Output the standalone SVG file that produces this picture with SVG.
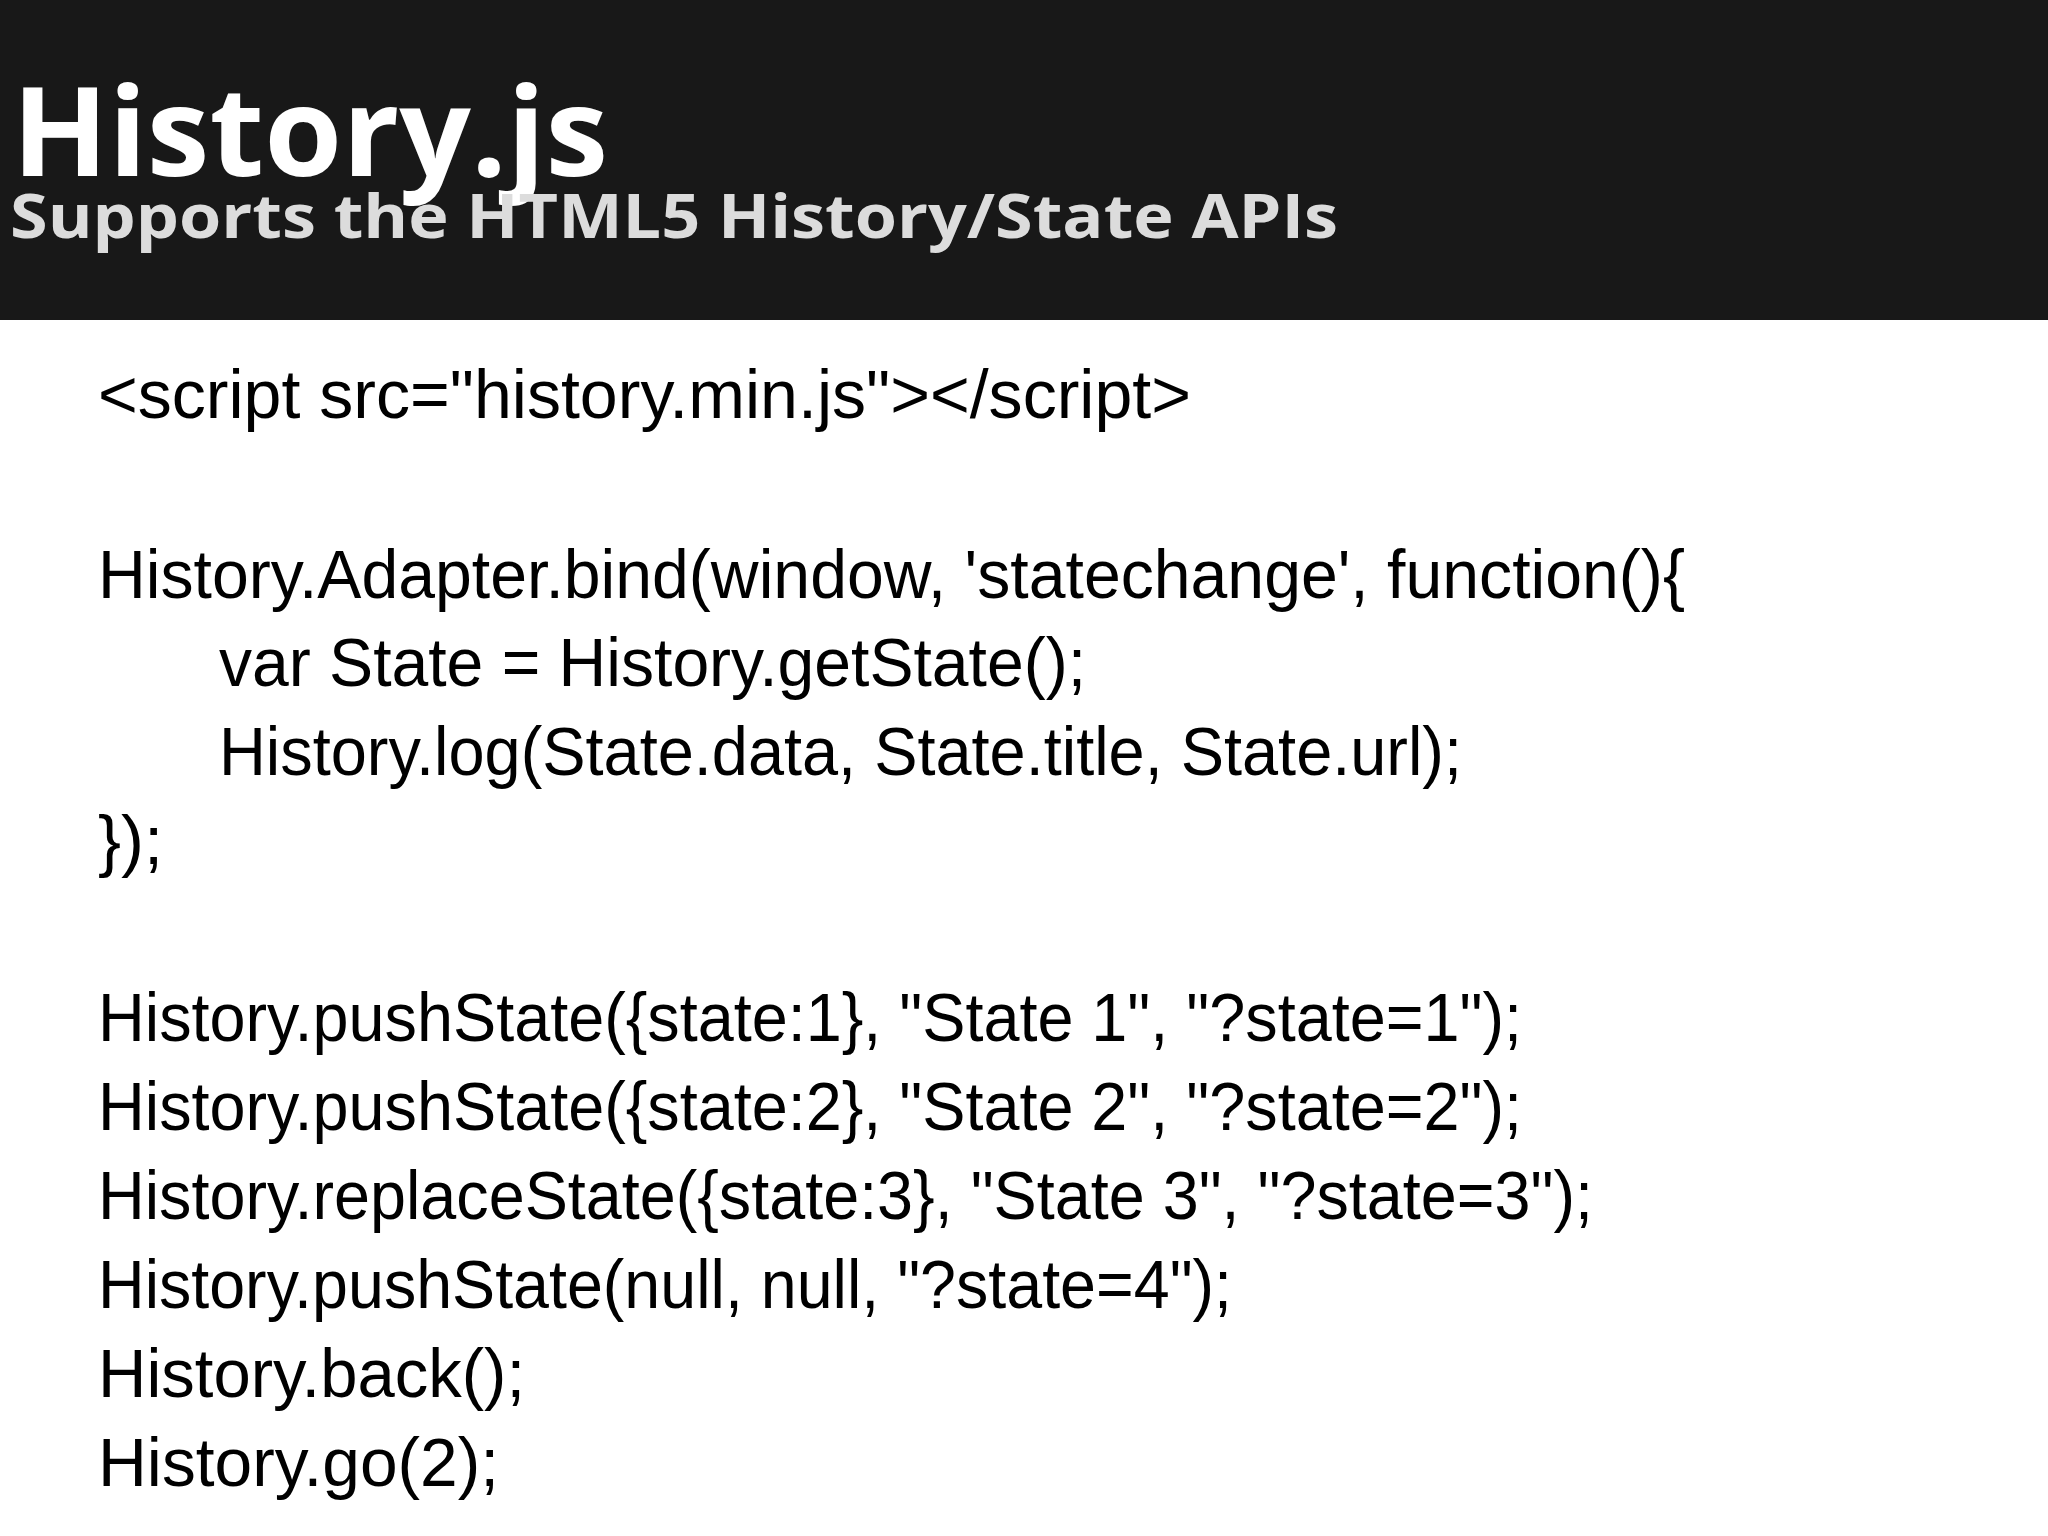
<svg xmlns="http://www.w3.org/2000/svg" width="2048" height="1536" viewBox="0 0 2048 1536">
<style>
.c{font-family:"Liberation Sans",Arial,sans-serif;font-size:68px;fill:#000}
</style>
<rect x="0" y="0" width="2048" height="1536" fill="#fff"/>
<g id="header">
<rect x="0" y="0" width="2048" height="320" fill="#181818"/>
<text x="12" y="176" font-family="Open Sans,sans-serif" font-weight="bold" font-size="124" fill="#fff" textLength="596" lengthAdjust="spacingAndGlyphs">History.js</text>
<text x="10" y="238" font-family="Open Sans,sans-serif" font-weight="bold" font-size="60" fill="#dcdcdc" textLength="1328" lengthAdjust="spacingAndGlyphs">Supports the HTML5 History/State APIs</text>
</g>
<g id="code">
<text class="c" x="98" y="418" textLength="1093" lengthAdjust="spacingAndGlyphs">&lt;script src="history.min.js"&gt;&lt;/script&gt;</text>
<text class="c" x="98" y="598" textLength="1587" lengthAdjust="spacingAndGlyphs">History.Adapter.bind(window, 'statechange', function(){</text>
<text class="c" x="219" y="686" textLength="867" lengthAdjust="spacingAndGlyphs">var State = History.getState();</text>
<text class="c" x="219" y="775" textLength="1243" lengthAdjust="spacingAndGlyphs">History.log(State.data, State.title, State.url);</text>
<text class="c" x="98" y="864" textLength="65" lengthAdjust="spacingAndGlyphs">});</text>
<text class="c" x="98" y="1041" textLength="1424" lengthAdjust="spacingAndGlyphs">History.pushState({state:1}, "State 1", "?state=1");</text>
<text class="c" x="98" y="1130" textLength="1424" lengthAdjust="spacingAndGlyphs">History.pushState({state:2}, "State 2", "?state=2");</text>
<text class="c" x="98" y="1219" textLength="1495" lengthAdjust="spacingAndGlyphs">History.replaceState({state:3}, "State 3", "?state=3");</text>
<text class="c" x="98" y="1308" textLength="1134" lengthAdjust="spacingAndGlyphs">History.pushState(null, null, "?state=4");</text>
<text class="c" x="98" y="1397" textLength="427" lengthAdjust="spacingAndGlyphs">History.back();</text>
<text class="c" x="98" y="1486" textLength="401" lengthAdjust="spacingAndGlyphs">History.go(2);</text>
</g>
</svg>
